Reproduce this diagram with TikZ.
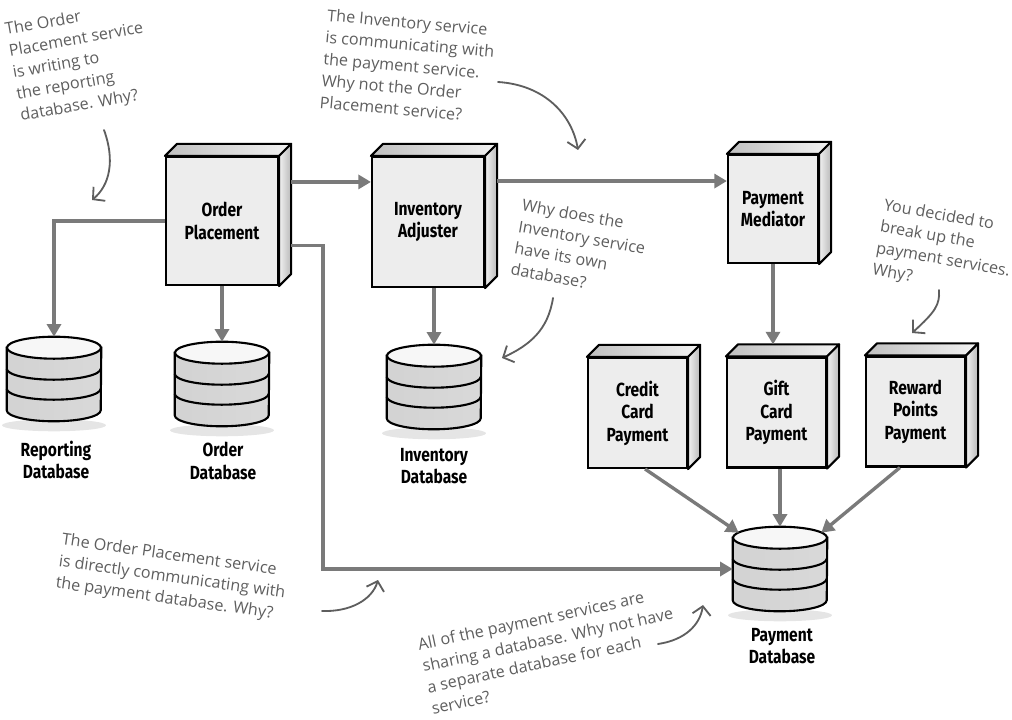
\documentclass[tikz,border=0pt]{standalone}
\usepackage{fontspec}
\setmainfont{Open Sans}
\newfontfamily\boxfont[FakeStretch=0.82]{Fira Sans}
\usetikzlibrary{arrows.meta,calc}

\definecolor{flowgray}{HTML}{7A7A7A}
\definecolor{notegray}{HTML}{5E5E5E}

% 3D faces of a service box
\newcommand\boxfaces[1]{%
    \shadedraw[left color=gray!50, right color=gray!10, line width=1.5pt, line join=round]
        (#1.north west) -- ++(12,12) -- ([shift={(12,12)}]#1.north east) -- (#1.north east) -- cycle;
    \shadedraw[left color=gray!10, right color=gray!55, line width=1.5pt, line join=round]
        (#1.north east) -- ++(12,12) -- ([shift={(12,12)}]#1.south east) -- (#1.south east) -- cycle;}

% cylinder drawn on a database node
\newcommand\dbdraw[1]{%
    \fill[gray!20] ([shift={(0,-4)}]#1.south) ellipse [x radius=52, y radius=6];
    \shadedraw[left color=gray!35, middle color=white, right color=gray!30, line width=1.5pt]
        ([shift={(0,-11)}]#1.north west) -- ([shift={(0,11)}]#1.south west)
        arc[start angle=180, end angle=360, x radius=47, y radius=11]
        -- ([shift={(0,-11)}]#1.north east) -- cycle;
    \filldraw[fill=gray!6, line width=1.5pt] ([shift={(0,-11)}]#1.north) ellipse [x radius=47, y radius=11];
    \draw[line width=1.5pt] ([shift={(0,-32)}]#1.north west) arc[start angle=180, end angle=360, x radius=47, y radius=11];
    \draw[line width=1.5pt] ([shift={(0,-52)}]#1.north west) arc[start angle=180, end angle=360, x radius=47, y radius=11];}

\begin{document}
\begin{tikzpicture}[x=0.025cm, y=0.025cm,
    service/.style={draw, line width=1.5pt, fill=gray!14, inner sep=0pt, align=center,
        font=\boxfont\bfseries\fontsize{13.5}{16}\selectfont},
    database/.style={inner sep=0pt, minimum width=2.35cm, minimum height=2.1cm},
    dblabel/.style={align=center, font=\boxfont\bfseries\fontsize{13.5}{16}\selectfont},
    flow/.style={flowgray, line width=2.4pt, -{Triangle[length=9pt,width=10pt]}},
    note/.style={notegray, align=left, font=\fontsize{11.5}{15.5}\selectfont},
    notearrow/.style={notegray, line width=1.3pt, line cap=round, -{Straight Barb[length=6pt,width=13pt]}}]
    \useasboundingbox (0,0) rectangle (1012,-720);

    % Services
    \node[service, minimum width=2.8cm, minimum height=3.2cm] (op) at (222,-221) {Order\\Placement};
    \node[service, minimum width=2.8cm, minimum height=3.25cm] (inv) at (428,-222) {Inventory\\Adjuster};
    \node[service, minimum width=2.25cm, minimum height=2.7cm] (pm) at (773,-209) {Payment\\Mediator};
    \node[service, minimum width=2.475cm, minimum height=2.75cm] (cc) at (637.5,-413) {Credit\\Card\\Payment};
    \node[service, minimum width=2.475cm, minimum height=2.75cm] (gc) at (776.5,-412.5) {Gift\\Card\\Payment};
    \node[service, minimum width=2.475cm, minimum height=2.75cm] (rp) at (915.5,-411.5) {Reward\\Points\\Payment};
    \boxfaces{op} \boxfaces{inv} \boxfaces{pm}
    \boxfaces{cc} \boxfaces{gc} \boxfaces{rp}

    % Databases
    \node[database] (repdb) at (54,-379) {};
    \node[database] (orddb) at (222,-384) {};
    \node[database] (invdb) at (434,-387) {};
    \node[database] (pdb) at (780,-569) {};
    \dbdraw{repdb} \dbdraw{orddb} \dbdraw{invdb} \dbdraw{pdb}
    \node[dblabel] (repdbl) at (56,-460) {Reporting\\Database};
    \node[dblabel] (orddbl) at (223,-461) {Order\\Database};
    \node[dblabel] (invdbl) at (434,-466) {Inventory\\Database};
    \node[dblabel] (pdbl) at (782,-646) {Payment\\Database};

    % Connectors
    \coordinate (op-a) at ($(op.north east)!0.2!(op.south east)+(12,0)$);
    \coordinate (op-b) at ($(op.north east)!0.69!(op.south east)+(12,0)$);
    \coordinate (inv-a) at ($(inv.north east)!0.19!(inv.south east)+(12,0)$);
    \coordinate (gc-top) at ([shift={(0,12)}]gc.north);
    \draw[flow] (op.west) -| (repdb.north);
    \draw[flow] (op.south) -- (orddb.north);
    \draw[flow] (op-a) -- (op-a -| inv.west);
    \draw[flow] (op-b) -- ++(32,0) |- (pdb.west);
    \draw[flow] (inv-a) -- (inv-a -| pm.west);
    \draw[flow] (invdb.north |- inv.south) -- (invdb.north);
    \draw[flow] (pm.south) -- (pm.south |- gc-top);
    \draw[flow] ([xshift=0.19cm]cc.south) -- ([shift={(6,-6)}]pdb.north west);
    \draw[flow] (gc.south -| pdb.north) -- (pdb.north);
    \draw[flow] ([xshift=-0.39cm]rp.south) -- ([shift={(-6,-6)}]pdb.north east);

    % Notes
    \node[note, rotate=10] (n1) at (80,-62) {The Order\\Placement service\\is writing to\\the reporting\\database. Why?};
    \node[note, rotate=-5] (n2) at (408,-66) {The Inventory service\\is communicating with\\the payment service.\\Why not the Order\\Placement service?};
    \node[note, rotate=-10] (n3) at (580,-248) {Why does the\\Inventory service\\have its own\\database?};
    \node[note, rotate=-10] (n4) at (945,-250) {You decided to\\break up the\\payment services.\\Why?};
    \node[note, rotate=-8] (n5) at (172,-578) {The Order Placement service\\is directly communicating with\\the payment database. Why?};
    \node[note, rotate=12] (n6) at (550,-650) {All of the payment services are\\sharing a database. Why not have\\a separate database for each\\service?};

    % Note arrows
    \coordinate (n1-end) at (92,-200);
    \coordinate (n2-end) at (578,-150);
    \coordinate (n3-end) at (502,-358);
    \coordinate (n4-end) at (912,-333);
    \coordinate (n5-end) at (378,-580);
    \coordinate (n6-end) at (703,-605);
    \draw[notearrow] (104,-130) .. controls (115,-160) and (110,-185) .. (n1-end);
    \draw[notearrow] (498,-82) .. controls (545,-85) and (572,-115) .. (n2-end);
    \draw[notearrow] (553,-298) .. controls (548,-330) and (530,-345) .. (n3-end);
    \draw[notearrow] (939,-290) .. controls (940,-305) and (935,-312) .. (n4-end);
    \draw[notearrow] (322,-611) .. controls (350,-612) and (372,-600) .. (n5-end);
    \draw[notearrow] (658,-644) .. controls (685,-640) and (700,-625) .. (n6-end);
\end{tikzpicture}
\end{document}
